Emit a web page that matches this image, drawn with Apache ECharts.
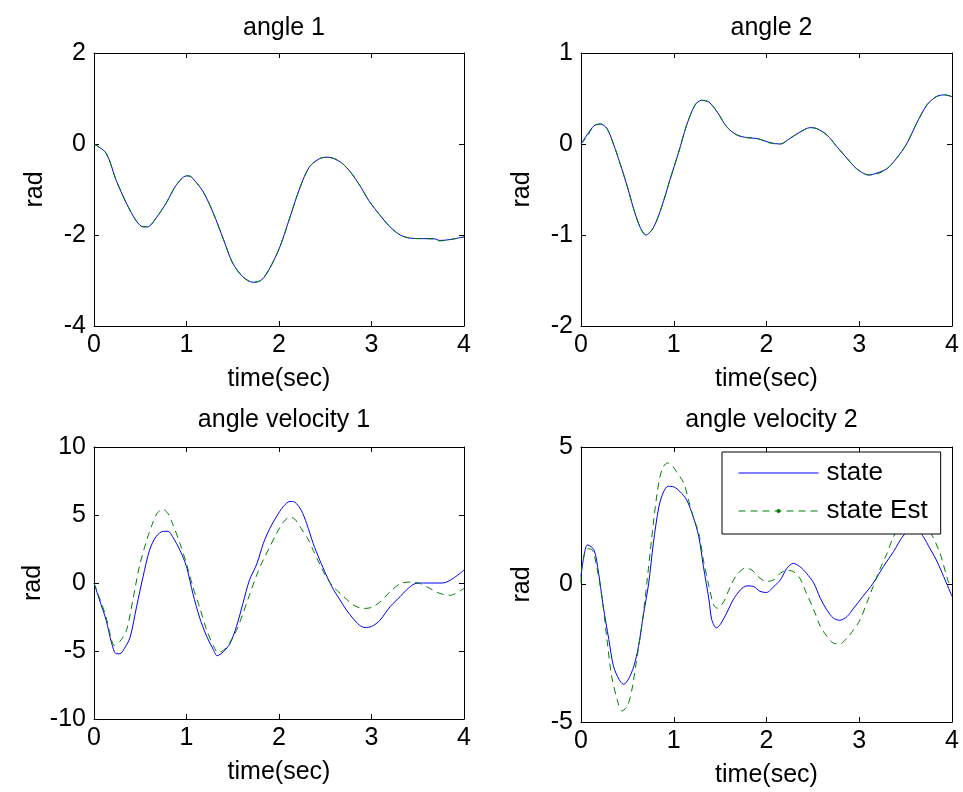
<!DOCTYPE html>
<html>
<head>
<meta charset="utf-8">
<script src="https://cdn.jsdelivr.net/npm/echarts@6/dist/echarts.min.js"></script>
<style>
html,body{margin:0;padding:0;background:#fff;}
#chart{width:963px;height:792px;}
</style>
</head>
<body>
<div id="chart"></div>
<script>
// angle 1
var angle1Time = [0,0.13,0.24,0.35,0.46,0.53,0.58,0.67,0.78,0.89,1.0,1.05,1.18,1.29,1.40,1.50,1.61,1.72,1.81,1.90,2.01,2.12,2.23,2.33,2.44,2.53,2.66,2.77,2.87,2.98,3.09,3.20,3.31,3.42,3.55,3.67,3.74,3.85,4.0];
var angle1State = [0,-0.2,-0.8,-1.3,-1.7,-1.82,-1.82,-1.63,-1.3,-0.9,-0.7,-0.72,-1.05,-1.52,-2.1,-2.62,-2.92,-3.04,-2.99,-2.73,-2.26,-1.6,-0.94,-0.5,-0.32,-0.29,-0.39,-0.61,-0.9,-1.27,-1.56,-1.82,-2.0,-2.07,-2.08,-2.08,-2.12,-2.1,-2.04];
var angle1Est = [0,-0.2,-0.8,-1.3,-1.7,-1.82,-1.82,-1.63,-1.3,-0.9,-0.7,-0.72,-1.05,-1.52,-2.1,-2.62,-2.92,-3.04,-2.99,-2.73,-2.26,-1.6,-0.94,-0.5,-0.32,-0.29,-0.39,-0.61,-0.9,-1.27,-1.56,-1.82,-2.0,-2.07,-2.08,-2.09,-2.13,-2.1,-2.05];

// angle 2
var angle2Time = [0,0.065,0.14,0.21,0.28,0.35,0.42,0.50,0.57,0.64,0.70,0.78,0.87,0.96,1.05,1.14,1.23,1.30,1.38,1.47,1.57,1.68,1.79,1.90,2.04,2.15,2.25,2.36,2.47,2.54,2.65,2.76,2.87,2.97,3.10,3.19,3.30,3.40,3.51,3.62,3.73,3.83,3.92,4.0];
var angle2State = [0,0.1,0.2,0.22,0.17,0.0,-0.21,-0.47,-0.72,-0.92,-1.0,-0.92,-0.69,-0.39,-0.1,0.21,0.43,0.48,0.46,0.35,0.19,0.1,0.07,0.06,0.015,0.0,0.06,0.13,0.18,0.17,0.1,-0.03,-0.16,-0.27,-0.34,-0.32,-0.27,-0.16,0.0,0.23,0.43,0.52,0.54,0.52];
var angle2Est = [0,0.08,0.2,0.22,0.17,0.0,-0.21,-0.47,-0.72,-0.92,-1.0,-0.92,-0.69,-0.39,-0.1,0.21,0.43,0.48,0.46,0.35,0.19,0.1,0.07,0.06,0.01,0.0,0.06,0.13,0.18,0.17,0.1,-0.03,-0.16,-0.27,-0.34,-0.33,-0.27,-0.16,0.0,0.23,0.43,0.52,0.54,0.52];

// angle velocity 1
var vel1StateTime = [0,0.06,0.13,0.19,0.24,0.28,0.33,0.39,0.46,0.53,0.60,0.67,0.75,0.80,0.85,0.93,1.0,1.07,1.14,1.22,1.29,1.33,1.40,1.47,1.54,1.61,1.68,1.76,1.83,1.90,1.97,2.05,2.12,2.17,2.24,2.30,2.37,2.44,2.51,2.59,2.66,2.73,2.80,2.87,2.93,3.0,3.09,3.20,3.31,3.38,3.47,3.56,3.77,3.88,4.0];
var vel1State = [0,-1.26,-2.7,-4.4,-5.2,-5.2,-4.8,-4.0,-1.75,0.45,2.4,3.4,3.8,3.8,3.4,2.4,1.2,-0.8,-2.5,-3.95,-4.9,-5.35,-5.05,-4.45,-3.2,-1.5,0.2,1.4,2.9,4.0,4.85,5.65,6.0,5.95,5.35,4.35,2.9,1.7,0.6,-0.5,-1.25,-2.0,-2.6,-3.1,-3.27,-3.2,-2.75,-1.75,-1.0,-0.5,-0.05,0,0,0.33,0.95];
var vel1EstTime = [0,0.06,0.13,0.19,0.22,0.28,0.35,0.42,0.49,0.57,0.64,0.69,0.75,0.80,0.85,0.93,1.0,1.07,1.14,1.22,1.29,1.34,1.40,1.47,1.54,1.61,1.68,1.76,1.83,1.90,1.97,2.05,2.12,2.17,2.24,2.32,2.37,2.44,2.51,2.59,2.70,2.80,2.91,3.0,3.09,3.20,3.31,3.42,3.53,3.63,3.74,3.85,4.0];
var vel1Est = [0,-1.1,-2.5,-4.2,-4.6,-4.3,-3.5,-1.25,1.2,3.15,4.5,5.2,5.4,5.1,4.35,2.9,1.4,-0.3,-1.75,-3.5,-4.6,-5.1,-4.95,-4.35,-3.5,-2.25,-0.9,0.6,1.7,2.65,3.6,4.5,4.85,4.7,4.0,3.15,2.4,1.4,0.45,-0.3,-1.0,-1.6,-1.87,-1.8,-1.4,-0.65,-0.05,0.07,-0.05,-0.4,-0.77,-0.9,-0.4];

// angle velocity 2
var vel2StateTime = [0,0.03,0.07,0.14,0.19,0.24,0.30,0.35,0.41,0.46,0.51,0.57,0.62,0.67,0.73,0.78,0.84,0.89,0.94,1.0,1.07,1.14,1.21,1.27,1.32,1.38,1.41,1.46,1.50,1.57,1.64,1.72,1.79,1.86,1.93,2.0,2.08,2.15,2.22,2.29,2.36,2.43,2.51,2.58,2.65,2.72,2.79,2.87,2.94,3.04,3.15,3.26,3.37,3.48,3.55,3.62,3.69,3.76,3.83,3.91,4.0];
var vel2State = [0.3,1.0,1.44,1.26,0.41,-0.8,-2.0,-2.97,-3.45,-3.63,-3.45,-2.97,-2.25,-1.16,0.05,1.5,2.83,3.37,3.57,3.55,3.37,3.07,2.46,1.74,0.65,-0.56,-1.28,-1.58,-1.46,-1.04,-0.56,-0.19,-0.05,-0.07,-0.25,-0.29,-0.07,0.17,0.59,0.77,0.65,0.41,0.05,-0.5,-0.92,-1.22,-1.3,-1.16,-0.86,-0.43,0.05,0.65,1.2,1.8,1.95,2.0,1.74,1.32,0.9,0.29,-0.43];
var vel2EstTime = [0,0.01,0.065,0.12,0.17,0.23,0.28,0.33,0.39,0.44,0.50,0.55,0.60,0.66,0.71,0.76,0.82,0.87,0.93,0.98,1.03,1.11,1.16,1.21,1.27,1.32,1.38,1.43,1.47,1.54,1.61,1.68,1.77,1.84,1.93,2.0,2.08,2.15,2.22,2.29,2.36,2.43,2.51,2.58,2.65,2.72,2.79,2.87,2.94,3.01,3.08,3.15,3.22,3.30,3.37,3.45,3.55,3.65,3.75,3.87,3.96,4.0];
var vel2Est = [0.05,0.65,1.3,1.26,0.65,-0.56,-2.0,-3.33,-4.18,-4.6,-4.42,-3.8,-2.73,-1.4,0.05,1.62,3.3,4.15,4.42,4.33,4.1,3.67,3.07,2.46,1.86,0.89,-0.07,-0.74,-0.86,-0.62,-0.07,0.35,0.59,0.53,0.23,0.11,0.17,0.41,0.51,0.47,0.23,-0.31,-0.92,-1.52,-1.88,-2.13,-2.16,-1.94,-1.64,-1.28,-0.68,-0.07,0.53,1.14,1.74,2.1,2.3,2.3,2.0,1.14,0.11,-0.1];

var panelTitles = ['angle 1','angle 2','angle velocity 1','angle velocity 2'];
var yMin = [-4,-2,-10,-5];
var yMax = [2,1,10,5];
var yStep = [2,1,5,5];

var FONT = '"Liberation Sans", Arial, sans-serif';
var grids = [
	{left:94, top:53, width:370, height:273},
	{left:581, top:53, width:371, height:273},
	{left:94, top:447, width:370, height:272},
	{left:581, top:447, width:371, height:275}
];

function pairs(t, v){
	return t.map(function(x, i){ return [x, v[i]]; });
}

var panels = [
	{stateT:angle1Time, state:angle1State, estT:angle1Time, est:angle1Est},
	{stateT:angle2Time, state:angle2State, estT:angle2Time, est:angle2Est},
	{stateT:vel1StateTime, state:vel1State, estT:vel1EstTime, est:vel1Est},
	{stateT:vel2StateTime, state:vel2State, estT:vel2EstTime, est:vel2Est}
];

var xAxes = [], yAxes = [], series = [], titles = [];
grids.forEach(function(g, i){
	var tick = {show:true, inside:true, length:5, lineStyle:{color:'#000'}};
	var line = {show:true, onZero:false, lineStyle:{color:'#000', width:1}};
	xAxes.push({
		type:'value', gridIndex:i, position:'bottom', min:0, max:4, interval:1,
		axisLine:line, axisTick:tick, splitLine:{show:false},
		axisLabel:{color:'#000', fontSize:25, fontFamily:FONT, margin:7},
		name:'time(sec)', nameLocation:'middle', nameGap:41,
		nameTextStyle:{color:'#000', fontSize:25, fontFamily:FONT}
	});
	xAxes.push({
		type:'value', gridIndex:i, position:'top', min:0, max:4, interval:1,
		axisLine:line, axisTick:tick, splitLine:{show:false}, axisLabel:{show:false}
	});
	yAxes.push({
		type:'value', gridIndex:i, position:'left', min:yMin[i], max:yMax[i], interval:yStep[i],
		axisLine:line, axisTick:tick, splitLine:{show:false},
		axisLabel:{color:'#000', fontSize:25, fontFamily:FONT, margin:8},
		name:'rad', nameLocation:'middle', nameGap:46,
		nameTextStyle:{color:'#000', fontSize:25, fontFamily:FONT}
	});
	yAxes.push({
		type:'value', gridIndex:i, position:'right', min:yMin[i], max:yMax[i], interval:yStep[i],
		axisLine:line, axisTick:tick, splitLine:{show:false}, axisLabel:{show:false}
	});
	titles.push({
		text:panelTitles[i], left:g.left + g.width/2, top:(i < 2 ? 11 : 403), textAlign:'center',
		textStyle:{color:'#000', fontSize:25, fontWeight:'normal', fontFamily:FONT}
	});
	var p = panels[i];
	series.push({
		name:'state', type:'line', xAxisIndex:2*i, yAxisIndex:2*i,
		data:pairs(p.stateT, p.state), symbol:'none', smooth:0.3,
		lineStyle:{color:'#0000ff', width:1}, itemStyle:{color:'#0000ff'}
	});
	series.push({
		name:'state Est', type:'line', xAxisIndex:2*i, yAxisIndex:2*i,
		data:pairs(p.estT, p.est), symbol:'circle', symbolSize:4, showSymbol:false, smooth:0.3,
		lineStyle:{color:'#008000', width:1, type:[7,5]}, itemStyle:{color:'#008000'}
	});
});

var chart = echarts.init(document.getElementById('chart'));
chart.setOption({
	animation:false,
	backgroundColor:'#fff',
	title:titles,
	grid:grids,
	xAxis:xAxes,
	yAxis:yAxes,
	legend:{
		data:[
			{name:'state', itemStyle:{opacity:0}},
			{name:'state Est'}
		],
		orient:'vertical', left:722, top:452,
		itemWidth:80, itemHeight:5, itemGap:12,
		padding:[8,13,10,16],
		lineStyle:{width:1},
		backgroundColor:'#fff', borderColor:'#000', borderWidth:1, z:10,
		textStyle:{color:'#000', fontSize:26, fontFamily:FONT, lineHeight:26, padding:[0,0,0,3]}
	},
	series:series
});
</script>
</body>
</html>
